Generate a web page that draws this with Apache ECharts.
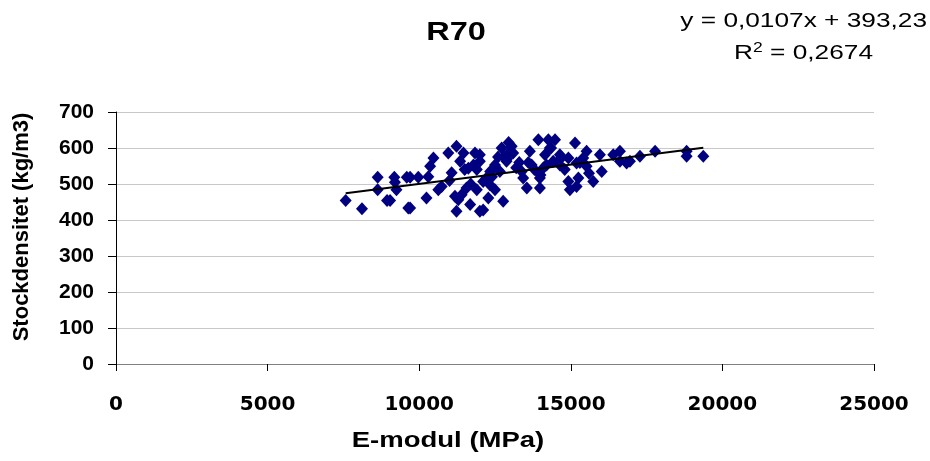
<!DOCTYPE html>
<html>
<head>
<meta charset="utf-8">
<title>R70</title>
<script src="https://cdn.jsdelivr.net/npm/echarts@6/dist/echarts.min.js"></script>
<style>
  html, body { margin: 0; padding: 0; background: #fff; }
  #chart { width: 930px; height: 461px; }
</style>
</head>
<body>
<div id="chart"></div>
<script>
// E-modul (MPa) per sample
const eModul = [
  7575, 8113, 8630, 8630, 9180, 9250, 8940, 9040, 9590, 9640, 9200,
  9700, 9970, 9700, 10240, 10470, 10360, 10630, 10740, 10960, 11230, 11460,
  11350, 11070, 11180, 11290, 11230, 11560, 11620, 11840, 11790, 11900, 12000,
  11900, 11680,
  13050, 12950, 12720, 13100, 12500, 12340, 12660, 12220, 12880, 12000, 12000,
  12110, 12330, 12280, 12770, 12110, 12500, 13430, 13650, 13930, 14260, 13710,
  13380, 13980, 13980, 13550, 14200, 14420, 14310, 14150, 14640,
  14480, 15140, 14640, 14920, 14640, 15520, 15410, 15520, 15190, 15250, 14920,
  15190, 14970, 15740, 16020, 15960, 16400, 16620, 16620, 16840,
  16950, 17280, 17780, 18820, 18820, 19370,
  11000, 11400, 12600, 12900, 13200, 13300, 13800, 14000, 14100, 14800, 15300,
  10300, 11700, 12400, 13600, 13000, 12800, 11500, 14350, 15600
];
// Stockdensitet (kg/m3) per sample
const densitet = [
  454, 431, 519, 484, 519, 484, 454, 454, 519, 433, 505,
  519, 519, 433, 461, 572, 549, 484, 493, 586, 605, 586,
  563, 531, 466, 456, 424, 489, 544, 586, 553, 540, 424,
  484, 443,
  605, 615, 600, 586, 553, 535, 535, 517, 563, 563, 581,
  507, 498, 461, 452, 428, 484, 517, 591, 623, 623, 553,
  535, 517, 489, 489, 553, 563, 600, 581, 568,
  623, 614, 581, 572, 553, 591, 572, 549, 558, 517, 507,
  493, 484, 507, 535, 581, 581, 591, 563, 558,
  563, 577, 591, 591, 577, 577,
  510, 470, 575, 570, 545, 560, 540, 525, 545, 540, 560,
  520, 500, 520, 560, 590, 575, 540, 600, 530
];
// Linear trend: y = 0,0107x + 393,23
const trendSlope = 0.0107;
const trendIntercept = 393.23;
const xTicks = [0, 5000, 10000, 15000, 20000, 25000];
const yTicks = [0, 100, 200, 300, 400, 500, 600, 700];

const points = eModul.map((x, i) => [x, densitet[i]]);
const xMin = Math.min(...eModul);
const xMax = Math.max(...eModul);
const trend = [xMin, xMax].map(x => [x, trendSlope * x + trendIntercept]);

const FONT = '"Liberation Sans", Arial, sans-serif';
const WIDE = '"DejaVu Sans", sans-serif';
const STRETCH = 1.25; // horizontal stretch for the titles and equation

const chart = echarts.init(document.getElementById('chart'));
chart.setOption({
  animation: false,
  backgroundColor: '#ffffff',
  textStyle: { fontFamily: FONT },
  grid: { left: 116, right: 56, top: 112, bottom: 97, containLabel: false },
  xAxis: {
    type: 'value',
    min: xTicks[0], max: xTicks[xTicks.length - 1], interval: 5000,
    axisLine: { show: true, onZero: false, lineStyle: { color: '#808080', width: 1 } },
    axisTick: { show: true, inside: false, length: 7, lineStyle: { color: '#000' } },
    splitLine: { show: false },
    axisLabel: { color: '#000', fontWeight: 'bold', fontSize: 20, margin: 31, fontFamily: WIDE,
      formatter: v => String(v) }
  },
  yAxis: {
    type: 'value',
    min: yTicks[0], max: yTicks[yTicks.length - 1], interval: 100,
    axisLine: { show: true, onZero: false, lineStyle: { color: '#000', width: 1 } },
    axisTick: { show: true, inside: false, length: 8, lineStyle: { color: '#000' } },
    splitLine: { show: true, lineStyle: { color: '#c8c8c8', width: 1 } },
    axisLabel: { color: '#000', fontWeight: 'bold', fontSize: 21, margin: 22, fontFamily: FONT }
  },
  series: [
    {
      type: 'scatter',
      data: points,
      symbol: 'diamond',
      symbolSize: [12, 13],
      itemStyle: { color: '#000080', opacity: 1 },
      z: 2
    },
    {
      type: 'line',
      data: trend,
      symbol: 'none',
      lineStyle: { color: '#000', width: 2 },
      z: 3
    }
  ],
  graphic: [
    {
      type: 'text', x: 456, y: 33, scaleX: STRETCH,
      style: { text: 'R70', x: 0, y: 0, align: 'center', verticalAlign: 'middle',
        font: 'bold 26px ' + FONT, fill: '#000' }
    },
    {
      type: 'text', x: 927, y: 21, scaleX: STRETCH,
      style: { text: 'y = 0,0107x + 393,23', x: 0, y: 0, align: 'right', verticalAlign: 'middle',
        font: '21px ' + FONT, fill: '#000' }
    },
    {
      type: 'text', x: 873, y: 53, scaleX: STRETCH,
      style: {
        text: '{b|R}{s|2}{b| = 0,2674}', x: 0, y: 0, align: 'right', verticalAlign: 'middle',
        rich: {
          b: { font: '21px ' + FONT, fill: '#000', color: '#000' },
          s: { font: '14px ' + FONT, fill: '#000', color: '#000', verticalAlign: 'top', padding: [0, 0, 9, 0] }
        }
      }
    },
    {
      type: 'text', x: 448, y: 441, scaleX: STRETCH,
      style: { text: 'E-modul (MPa)', x: 0, y: 0, align: 'center', verticalAlign: 'middle',
        font: 'bold 22px ' + FONT, fill: '#000' }
    },
    {
      type: 'text', rotation: Math.PI / 2, x: 22, y: 227,
      style: { text: 'Stockdensitet (kg/m3)', x: 0, y: 0, align: 'center', verticalAlign: 'middle',
        font: 'bold 22px ' + FONT, fill: '#000' }
    }
  ]
});
</script>
</body>
</html>
